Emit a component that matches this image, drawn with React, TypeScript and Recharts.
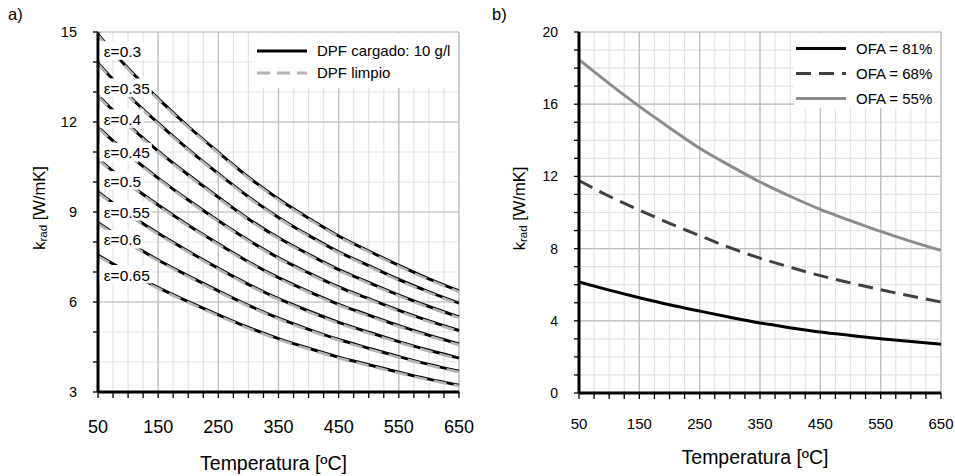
/**
 * Conductividad radiativa k_rad vs temperatura
 * a) efecto de la emisividad (DPF cargado vs limpio)
 * b) efecto del OFA
 */
import React from "react";
import {
  LineChart,
  Line,
  XAxis,
  YAxis,
  CartesianGrid,
  ReferenceDot,
  Legend,
  Label,
} from "recharts";

const FONT = "'Liberation Sans', Arial, sans-serif";

// eje X común (ºC)
const temps = [50, 100, 150, 200, 250, 300, 350, 400, 450, 500, 550, 600, 650];
const xTicks = [50, 75, 100, 125, 150, 175, 200, 225, 250, 275, 300, 325, 350, 375, 400, 425, 450, 475, 500, 525, 550, 575, 600, 625, 650];
const xMajor = [50, 150, 250, 350, 450, 550, 650];

// ---- a) ----
const epsLabels = ["ε=0.3", "ε=0.35", "ε=0.4", "ε=0.45", "ε=0.5", "ε=0.55", "ε=0.6", "ε=0.65"];
// anclaje (k_rad) de cada etiqueta, en T = 59.5 ºC
const epsLabelK = [14.36, 13.12, 12.09, 10.97, 10.03, 9.0, 8.07, 6.9];

const cargado030 = [14.92, 13.79, 12.78, 11.85, 10.99, 10.16, 9.43, 8.79, 8.2, 7.7, 7.22, 6.77, 6.37];
const cargado035 = [13.96, 12.9, 11.96, 11.09, 10.28, 9.51, 8.82, 8.22, 7.67, 7.21, 6.75, 6.34, 5.96];
const cargado040 = [12.88, 11.91, 11.03, 10.24, 9.49, 8.77, 8.14, 7.59, 7.08, 6.65, 6.23, 5.85, 5.5];
const cargado045 = [11.83, 10.93, 10.13, 9.4, 8.71, 8.06, 7.47, 6.97, 6.5, 6.11, 5.72, 5.37, 5.05];
const cargado050 = [10.77, 9.96, 9.23, 8.56, 7.94, 7.34, 6.81, 6.35, 5.92, 5.56, 5.21, 4.89, 4.6];
const cargado055 = [9.67, 8.94, 8.29, 7.69, 7.12, 6.59, 6.11, 5.7, 5.32, 4.99, 4.68, 4.39, 4.13];
const cargado060 = [8.64, 7.99, 7.4, 6.87, 6.37, 5.89, 5.46, 5.09, 4.75, 4.46, 4.18, 3.92, 3.69];
const cargado065 = [7.56, 6.99, 6.48, 6.01, 5.57, 5.15, 4.78, 4.46, 4.16, 3.91, 3.66, 3.43, 3.23];

const limpio030 = [14.89, 13.76, 12.75, 11.82, 10.96, 10.13, 9.4, 8.76, 8.17, 7.67, 7.19, 6.74, 6.34];
const limpio035 = [13.93, 12.87, 11.93, 11.06, 10.25, 9.48, 8.79, 8.19, 7.64, 7.18, 6.72, 6.31, 5.93];
const limpio040 = [12.85, 11.88, 11.0, 10.21, 9.46, 8.74, 8.11, 7.56, 7.05, 6.62, 6.2, 5.82, 5.47];
const limpio045 = [11.8, 10.9, 10.1, 9.37, 8.68, 8.03, 7.44, 6.94, 6.47, 6.08, 5.69, 5.34, 5.02];
const limpio050 = [10.74, 9.93, 9.2, 8.53, 7.91, 7.31, 6.78, 6.32, 5.89, 5.53, 5.18, 4.86, 4.57];
const limpio055 = [9.64, 8.91, 8.26, 7.66, 7.09, 6.56, 6.08, 5.67, 5.29, 4.96, 4.65, 4.36, 4.1];
const limpio060 = [8.61, 7.96, 7.37, 6.84, 6.34, 5.86, 5.43, 5.06, 4.72, 4.43, 4.15, 3.89, 3.66];
const limpio065 = [7.53, 6.96, 6.45, 5.98, 5.54, 5.12, 4.75, 4.43, 4.13, 3.88, 3.63, 3.4, 3.2];

const cargadoSeries = [cargado030, cargado035, cargado040, cargado045, cargado050, cargado055, cargado060, cargado065];
const limpioSeries = [limpio030, limpio035, limpio040, limpio045, limpio050, limpio055, limpio060, limpio065];

const yTicksA = [3, 4, 5, 6, 7, 8, 9, 10, 11, 12, 13, 14, 15];
const yMajorA = [3, 6, 9, 12, 15];

// ---- b) ----
const ofa81 = [6.15, 5.7, 5.28, 4.89, 4.54, 4.2, 3.88, 3.62, 3.38, 3.19, 3.01, 2.85, 2.7];
const ofa68 = [11.77, 10.9, 10.13, 9.4, 8.72, 8.05, 7.47, 6.97, 6.5, 6.1, 5.72, 5.37, 5.04];
const ofa55 = [18.47, 17.14, 15.88, 14.7, 13.56, 12.6, 11.69, 10.9, 10.17, 9.55, 8.95, 8.4, 7.9];

const yTicksB = [0, 1, 2, 3, 4, 5, 6, 7, 8, 9, 10, 11, 12, 13, 14, 15, 16, 17, 18, 19, 20];
const yMajorB = [0, 4, 8, 12, 16, 20];

const rowsA = temps.map((t, i) => {
  const r: any = { t };
  cargadoSeries.forEach((s, k) => (r[`c${k}`] = s[i]));
  limpioSeries.forEach((s, k) => (r[`l${k}`] = s[i]));
  return r;
});
const rowsB = temps.map((t, i) => ({ t, o81: ofa81[i], o68: ofa68[i], o55: ofa55[i] }));

const legendA = ["DPF cargado: 10 g/l", "DPF limpio"];
const legendB = ["OFA = 81%", "OFA = 68%", "OFA = 55%"];

const STYLES: Record<string, { stroke: string; dash?: string }> = {
  "DPF cargado: 10 g/l": { stroke: "#000000" },
  "DPF limpio": { stroke: "#b4b4b4", dash: "13 7" },
  "OFA = 81%": { stroke: "#000000" },
  "OFA = 68%": { stroke: "#404040", dash: "15 8" },
  "OFA = 55%": { stroke: "#8c8c8c" },
};

const GRID_MINOR = "#e3e3e3";
const GRID_MAJOR = "#bdbdbd";

// leyenda propia: una fila por nombre, en el orden dado
function LegendBox({ payload, order, rowH, padTop, lineX, textX, fs }: any) {
  const names: string[] = order.filter((n: string) => (payload || []).some((e: any) => e.value === n));
  return (
    <div style={{ background: "#fff", width: "100%", height: "100%", paddingTop: padTop, boxSizing: "border-box" }}>
      {names.map((name, i) => {
        const st = STYLES[name] || { stroke: "#000" };
        return (
          <div key={i} style={{ position: "relative", height: rowH }}>
            <svg width={lineX + 52} height={rowH} style={{ position: "absolute", left: 0, top: 0 }}>
              <line x1={lineX} x2={lineX + 50} y1={rowH / 2} y2={rowH / 2} stroke={st.stroke} strokeWidth={3} strokeDasharray={st.dash} />
            </svg>
            <span style={{ position: "absolute", left: textX, top: 0, lineHeight: `${rowH}px`, fontSize: fs, fontFamily: FONT, color: "#000", whiteSpace: "nowrap" }}>
              {name}
            </span>
          </div>
        );
      })}
    </div>
  );
}

function YTitle({ viewBox, fs }: any) {
  const cx = viewBox.x + 39;
  const cy = viewBox.y + viewBox.height / 2 - 4;
  return (
    <text x={cx} y={cy} transform={`rotate(-90, ${cx}, ${cy})`} textAnchor="middle" dominantBaseline="central" fontSize={fs} fontFamily={FONT} fill="#000">
      k<tspan dy={4} fontSize={fs * 0.7}>rad</tspan>
      <tspan dy={-4}> [W/mK]</tspan>
    </text>
  );
}

function XTitle({ viewBox, dy }: any) {
  const cx = viewBox.x + viewBox.width / 2 - 5;
  return (
    <text x={cx} y={viewBox.y + dy} textAnchor="middle" fontSize={19.5} fontFamily={FONT} fill="#000">
      Temperatura [ºC]
    </text>
  );
}

function EpsLabel({ cx, cy, text }: any) {
  const w = text.length * 8 + 4;
  return (
    <g>
      <rect x={cx - 4} y={cy - 10} width={w} height={18.5} fill="#fff" />
      <text x={cx} y={cy} dominantBaseline="central" fontSize={15.5} fontFamily={FONT} fill="#000">
        {text}
      </text>
    </g>
  );
}

const axisLine = { stroke: "#000", strokeWidth: 3 };
const tickLine = { stroke: "#000", strokeWidth: 1.3 };

export default function App() {
  return (
    <div style={{ position: "absolute", left: 0, top: 0, width: 955, height: 476, background: "#fff", fontFamily: FONT }}>
      <div style={{ position: "absolute", left: 8, top: 6, fontSize: 16.5, lineHeight: "16px" }}>a)</div>
      <div style={{ position: "absolute", left: 492, top: 6, fontSize: 16.5, lineHeight: "16px" }}>b)</div>

      {/* a) */}
      <div style={{ position: "absolute", left: 0, top: 0 }}>
        <LineChart width={480} height={476} data={rowsA} margin={{ top: 32, right: 21, bottom: 0, left: 0 }}>
          <CartesianGrid stroke={GRID_MINOR} strokeWidth={1.2} />
          <CartesianGrid stroke={GRID_MAJOR} strokeWidth={1.2} verticalValues={xMajor} horizontalValues={yMajorA} />
          <XAxis
            dataKey="t"
            type="number"
            domain={[50, 650]}
            ticks={xTicks}
            interval={0}
            height={84}
            axisLine={axisLine}
            tickLine={tickLine}
            tickSize={6}
            tickMargin={22}
            tick={{ fill: "#000", fontSize: 18, fontFamily: FONT }}
            tickFormatter={(v: number) => ((v - 50) % 100 === 0 ? String(v) : "")}
          >
            <Label content={<XTitle dy={78} />} />
          </XAxis>
          <YAxis
            type="number"
            domain={[3, 15]}
            ticks={yTicksA}
            interval={0}
            width={98}
            axisLine={axisLine}
            tickLine={tickLine}
            tickSize={5}
            tickMargin={16}
            tick={{ fill: "#000", fontSize: 14.5, fontFamily: FONT }}
            tickFormatter={(v: number) => (v % 3 === 0 ? String(v) : "")}
          >
            <Label content={<YTitle fs={16.5} />} />
          </YAxis>
          {cargadoSeries.map((_, k) => [
            <Line
              key={`c${k}`}
              dataKey={`c${k}`}
              name="DPF cargado: 10 g/l"
              type="monotone"
              stroke="#000"
              strokeWidth={3}
              dot={false}
              legendType={k === 0 ? "line" : "none"}
              isAnimationActive={false}
            />,
            <Line
              key={`l${k}`}
              dataKey={`l${k}`}
              name="DPF limpio"
              type="monotone"
              stroke="#b4b4b4"
              strokeWidth={2.7}
              strokeDasharray="13 7"
              dot={false}
              legendType={k === 0 ? "line" : "none"}
              isAnimationActive={false}
            />,
          ])}
          {epsLabels.map((txt, k) => (
            <ReferenceDot
              key={txt}
              x={59.5}
              y={epsLabelK[k]}
              r={0}
              zIndex={1000}
              shape={(p: any) => <EpsLabel {...p} text={txt} />}
            />
          ))}
          <Legend
            layout="vertical"
            align="center"
            verticalAlign="middle"
            wrapperStyle={{ position: "absolute", left: 252, top: 33, width: 206, height: 55 }}
            content={<LegendBox order={legendA} rowH={22} padTop={7} lineX={5} textX={65} fs={15} />}
          />
        </LineChart>
      </div>

      {/* b) */}
      <div style={{ position: "absolute", left: 480, top: 0 }}>
        <LineChart width={475} height={476} data={rowsB} margin={{ top: 32, right: 14, bottom: 0, left: 0 }}>
          <CartesianGrid stroke={GRID_MINOR} strokeWidth={1.2} />
          <CartesianGrid stroke={GRID_MAJOR} strokeWidth={1.2} verticalValues={xMajor} horizontalValues={yMajorB} />
          <XAxis
            dataKey="t"
            type="number"
            domain={[50, 650]}
            ticks={xTicks}
            interval={0}
            height={83}
            axisLine={axisLine}
            tickLine={tickLine}
            tickSize={6}
            tickMargin={19}
            tick={{ fill: "#000", fontSize: 15, fontFamily: FONT }}
            tickFormatter={(v: number) => ((v - 50) % 100 === 0 ? String(v) : "")}
          >
            <Label content={<XTitle dy={71} />} />
          </XAxis>
          <YAxis
            type="number"
            domain={[0, 20]}
            ticks={yTicksB}
            interval={0}
            width={99}
            axisLine={axisLine}
            tickLine={tickLine}
            tickSize={5}
            tickMargin={16}
            tick={{ fill: "#000", fontSize: 14, fontFamily: FONT }}
            tickFormatter={(v: number) => (v % 4 === 0 ? String(v) : "")}
          >
            <Label content={<YTitle fs={16.5} />} />
          </YAxis>
          <Line dataKey="o81" name="OFA = 81%" type="monotone" stroke="#000" strokeWidth={3} dot={false} isAnimationActive={false} />
          <Line dataKey="o68" name="OFA = 68%" type="monotone" stroke="#404040" strokeWidth={3} strokeDasharray="15 8" dot={false} isAnimationActive={false} />
          <Line dataKey="o55" name="OFA = 55%" type="monotone" stroke="#8c8c8c" strokeWidth={3} dot={false} isAnimationActive={false} />
          <Legend
            layout="vertical"
            align="center"
            verticalAlign="middle"
            wrapperStyle={{ position: "absolute", left: 314, top: 33, width: 146, height: 75 }}
            content={<LegendBox order={legendB} rowH={25} padTop={2.5} lineX={2} textX={62} fs={15} />}
          />
        </LineChart>
      </div>
    </div>
  );
}
